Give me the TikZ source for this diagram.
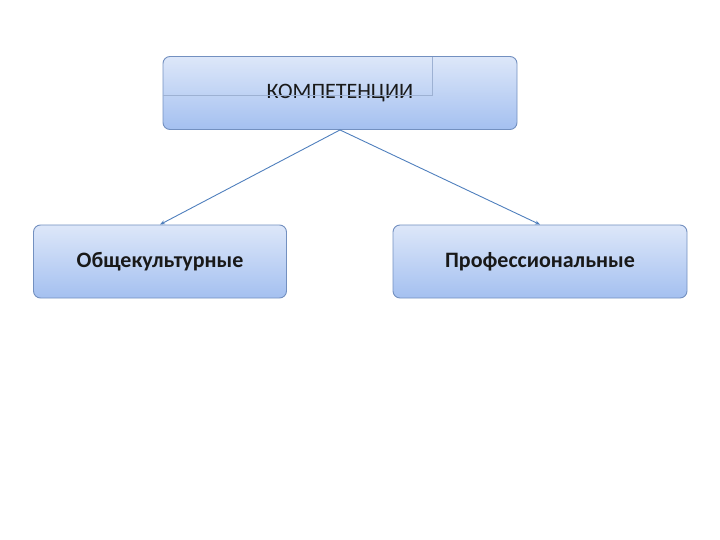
\documentclass[tikz,border=0pt]{standalone}
\usepackage{fontspec}
\setmainfont{Carlito}
\usepackage{tikz}
\usetikzlibrary{arrows.meta, positioning, calc}
\definecolor{boxtop}{HTML}{DDE7F9}
\definecolor{boxbottom}{HTML}{A4C0F0}
\definecolor{boxline}{HTML}{7390C0}
\definecolor{linkblue}{HTML}{4F7FBD}

\begin{document}
\begin{tikzpicture}[x=1pt, y=-1pt,
    compbox/.style={rectangle, draw=boxline, line width=0.9pt, rounded corners=7pt, top color=boxtop, bottom color=boxbottom, minimum height=73pt, font=\fontsize{22}{26}\selectfont\bfseries, text=black!90},
    link/.style={-{Stealth[length=5pt, width=4pt]}, draw=linkblue, line width=0.9pt}
]
\useasboundingbox (0,0) rectangle (720,540);
\node[compbox, minimum width=354pt, font=\fontsize{22}{26}\selectfont] (comp) at (340,93) {КОМПЕТЕНЦИИ};
\node[compbox, minimum width=253pt] (general) at (160,261.5) {Общекультурные};
\node[compbox, minimum width=294pt] (prof) at (540,261.5) {Профессиональные};

% stray frame inside the top box
\draw[boxline!70, line width=0.7pt] (comp.west |- 0,95) -- (432,95) -- (432,57);

\draw[link] (comp.south) -- (general.north);
\draw[link] (comp.south) -- (prof.north);
\end{tikzpicture}
\end{document}
